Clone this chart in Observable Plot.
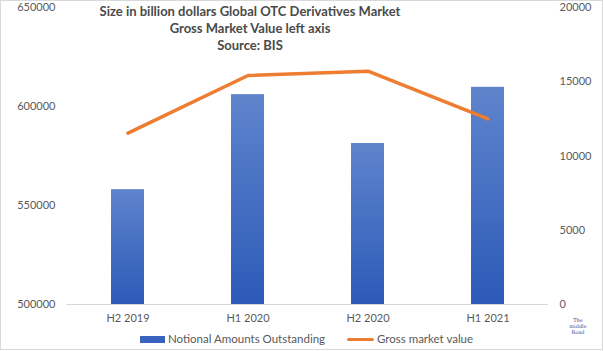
<!DOCTYPE html>
<html><head><meta charset="utf-8">
<script src="https://cdn.jsdelivr.net/npm/d3@7"></script>
<script src="https://cdn.jsdelivr.net/npm/@observablehq/plot@0.6"></script>
<style>
body{margin:0;background:#fff;}
#wrap{position:relative;width:604px;height:351px;font-family:Lato,"Open Sans",sans-serif;overflow:hidden;}
#border{position:absolute;left:0;top:0;width:601px;height:348px;border:1px solid #d9d9d9;pointer-events:none;}
#title{position:absolute;left:75px;width:350px;top:3px;text-align:center;font-weight:bold;font-size:13px;color:#4a4a4a;line-height:17px;}
#chart{position:absolute;left:0;top:0;}
#legend{position:absolute;left:0;top:330px;width:604px;height:18px;font-size:11.5px;color:#595959;}
.sw{position:absolute;}
.lt{position:absolute;top:1px;line-height:16px;white-space:nowrap;}
#logo{position:absolute;left:563px;top:317px;width:30px;text-align:center;font-size:5px;line-height:6px;color:#3b4f9a;font-family:"DejaVu Serif",serif;}
</style></head>
<body>
<div id="wrap">
  <div id="chart"></div>
  <div id="title">Size in billion dollars Global OTC Derivatives Market<br>Gross Market Value left axis<br>Source: BIS</div>
  <div id="legend">
    <div class="sw" style="left:140px;top:6px;width:25px;height:7px;background:#3a63bf;"></div>
    <div class="lt" style="left:168px;">Notional Amounts Outstanding</div>
    <div class="sw" style="left:347px;top:8px;width:27px;height:3px;background:#ed7d31;border-radius:2px;"></div>
    <div class="lt" style="left:377px;">Gross market value</div>
  </div>
  <div id="logo">The<br>middle<br>Road</div>
  <div id="border"></div>
</div>
<script>
const categories = ["H2 2019", "H1 2020", "H2 2020", "H1 2021"];
const notional = [558000, 606000, 581300, 609700];
const grossMarket = [11540, 15420, 15710, 12500];
const leftTicks = [500000, 550000, 600000, 650000];
const rightTicks = [0, 5000, 10000, 15000, 20000];

const leftMin = 500000, leftMax = 650000, rightMax = 20000;
const toLeft = v => leftMin + v * (leftMax - leftMin) / rightMax;

const bars = categories.map((c, i) => ({cat: c, value: notional[i]}));
const line = categories.map((c, i) => ({cat: c, value: toLeft(grossMarket[i])}));

const chart = Plot.plot({
  width: 604,
  height: 330,
  marginLeft: 66,
  marginRight: 56,
  marginTop: 7,
  marginBottom: 26,
  style: {fontFamily: "Lato, 'Open Sans', sans-serif", fontSize: "11px", color: "#595959", background: "transparent"},
  x: {domain: categories, paddingInner: 0.726, paddingOuter: 0.363, label: null},
  y: {domain: [leftMin, leftMax], label: null},
  marks: [
    Plot.barY(bars, {x: "cat", y1: leftMin, y2: "value", fill: "url(#barGrad)"}),
    Plot.ruleY([leftMin], {stroke: "#d9d9d9", strokeWidth: 1}),
    Plot.line(line, {x: "cat", y: "value", stroke: "#ed7d31", strokeWidth: 3.5, strokeLinejoin: "round", strokeLinecap: "round"}),
    Plot.axisX({tickSize: 0, tickPadding: 10, label: null, fill: "#595959"}),
    Plot.axisY(leftTicks, {anchor: "left", tickSize: 0, tickPadding: 11, tickFormat: d3.format("d"), label: null, fill: "#595959"}),
    Plot.axisY(rightTicks.map(toLeft), {anchor: "right", tickSize: 0, tickPadding: 11, tickFormat: d => String(Math.round((d - leftMin) * rightMax / (leftMax - leftMin))), label: null, fill: "#595959"})
  ]
});

const defs = d3.select(chart).insert("defs", ":first-child");
const g = defs.append("linearGradient").attr("id", "barGrad").attr("x1", 0).attr("y1", 0).attr("x2", 0).attr("y2", 1);
g.append("stop").attr("offset", "0%").attr("stop-color", "#5f84cd");
g.append("stop").attr("offset", "100%").attr("stop-color", "#2d5ab8");
const f = defs.append("filter").attr("id", "shadow").attr("x", "-10%").attr("y", "-10%").attr("width", "120%").attr("height", "130%");
f.append("feDropShadow").attr("dx", 0.8).attr("dy", 1.2).attr("stdDeviation", 1).attr("flood-color", "#000").attr("flood-opacity", 0.3);
d3.select(chart).selectAll("path[stroke='#ed7d31']").attr("filter", "url(#shadow)");
document.getElementById("chart").appendChild(chart);
</script>
</body></html>
